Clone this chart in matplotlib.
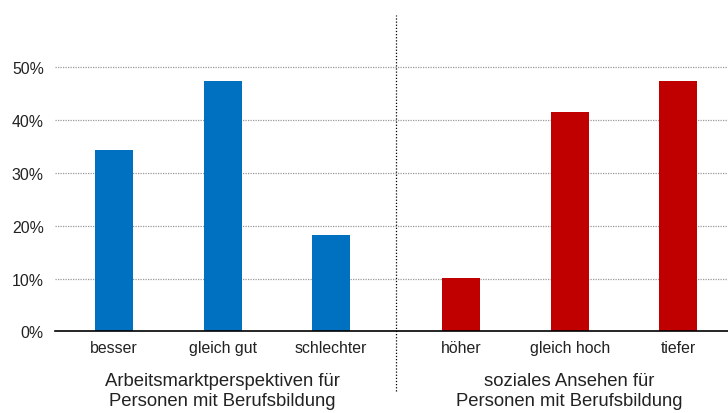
import matplotlib.pyplot as plt
from matplotlib.transforms import blended_transform_factory

plt.rcParams['font.family'] = ['Liberation Sans', 'DejaVu Sans']

categories = ['besser', 'gleich gut', 'schlechter', 'höher', 'gleich hoch', 'tiefer']
values = [34.3, 47.4, 18.3, 10.1, 41.5, 47.4]
positions = [0, 1, 2, 3.2, 4.2, 5.2]
colors = ['#0070C0'] * 3 + ['#C00000'] * 3
group_labels = ['Arbeitsmarktperspektiven für\nPersonen mit Berufsbildung',
                'soziales Ansehen für\nPersonen mit Berufsbildung']
group_centers = [1, 4.2]

fig = plt.figure(figsize=(7.28, 4.14), dpi=100)
ax = fig.add_axes([55 / 728, (414 - 332.3) / 414, 1 - 55 / 728, 316.8 / 414])

ax.bar(positions, values, width=0.35, color=colors, zorder=3)

ax.set_xlim(-0.545, 5.66)
ax.set_ylim(0, 60)
ax.set_yticks([0, 10, 20, 30, 40, 50])
ax.set_yticklabels(['%d%%' % v for v in [0, 10, 20, 30, 40, 50]], fontsize=11.4, color='#222222')
ax.set_xticks(positions)
ax.set_xticklabels(categories, fontsize=11.4, color='#222222')
ax.tick_params(length=0)
ax.tick_params(axis='y', pad=8)
ax.tick_params(axis='x', pad=6)

for s in ['top', 'right', 'left']:
    ax.spines[s].set_visible(False)
ax.spines['bottom'].set_color('black')
ax.spines['bottom'].set_linewidth(1.2)
ax.spines['bottom'].set_zorder(4)

for v in [10, 20, 30, 40, 50]:
    ax.axhline(v, color='#999999', linestyle=(0, (1, 1)), linewidth=0.9, zorder=1)

trans = blended_transform_factory(ax.transData, ax.transAxes)
ax.plot([2.6, 2.6], [-0.188, 1.0], transform=trans, color='black',
        linestyle=(0, (1, 1.5)), linewidth=0.9, clip_on=False)

for c, lab in zip(group_centers, group_labels):
    ax.text(c, -0.13, lab, transform=trans, ha='center', va='top',
            fontsize=13.3, color='#222222', linespacing=1.22)

fig.savefig('out.png', dpi=100)
